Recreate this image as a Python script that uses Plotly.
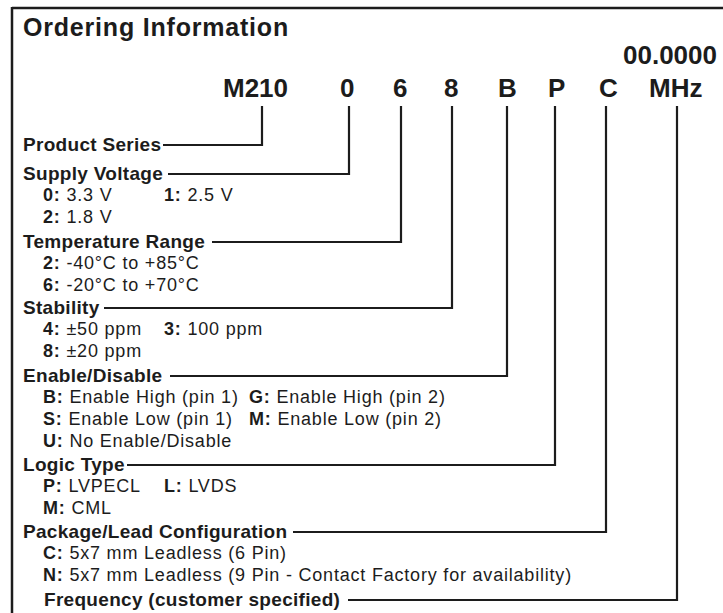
import plotly.graph_objects as go

W, H = 723, 613
INK = "#1c1c1c"
FONT = "Liberation Sans, Arial, sans-serif"

# ---- content ----
title = "Ordering Information"
freq_label = "00.0000"
codes = ["M210", "0", "6", "8", "B", "P", "C", "MHz"]
headings = ["Product Series", "Supply Voltage", "Temperature Range", "Stability",
            "Enable/Disable", "Logic Type", "Package/Lead Configuration",
            "Frequency (customer specified)"]
# options: (heading index, row within section, column, key, description)
opt_section = [1, 1, 1, 2, 2, 3, 3, 3, 4, 4, 4, 4, 4, 5, 5, 5, 6, 6]
opt_row = [1, 1, 2, 1, 2, 1, 1, 2, 1, 1, 2, 2, 3, 1, 1, 2, 1, 2]
opt_col = [0, 1, 0, 0, 0, 0, 1, 0, 0, 2, 0, 2, 0, 0, 1, 0, 0, 0]
opt_key = ["0", "1", "2", "2", "6", "4", "3", "8", "B", "G", "S", "M", "U",
           "P", "L", "M", "C", "N"]
opt_text = ["3.3 V", "2.5 V", "1.8 V", "-40°C to +85°C", "-20°C to +70°C",
            "±50 ppm", "100 ppm", "±20 ppm", "Enable High (pin 1)",
            "Enable High (pin 2)", "Enable Low (pin 1)", "Enable Low (pin 2)",
            "No Enable/Disable", "LVPECL", "LVDS", "CML",
            "5x7 mm Leadless (6 Pin)",
            "5x7 mm Leadless (9 Pin - Contact Factory for availability)"]

# ---- layout (pixel positions) ----
code_x = [255, 347, 400, 451, 507, 556, 608, 675]
line_x = [262, 349, 401, 452, 507, 555, 606, 677]
heading_y = [145, 174, 242, 308, 376, 465, 532, 600]
heading_x = [21, 21, 21, 21, 21, 21, 21, 42]
line_start = [163, 168, 212, 104, 170, 127, 293, 348]
col_x = [41, 162, 247]
row_step = 22
code_y = 88
vline_top = 106

fig = go.Figure()
shapes = []
ann = []

# border
shapes.append(dict(type="line", x0=12, x1=W, y0=8, y1=8, line=dict(color=INK, width=2.5)))
shapes.append(dict(type="line", x0=12, x1=12, y0=7, y1=H, line=dict(color=INK, width=2.5)))

ann.append(dict(x=21, y=27, text='<b><span style="letter-spacing:0.8px">' + title + '</span></b>',
                xanchor="left", yanchor="middle",
                font=dict(size=25, family=FONT, color=INK)))
ann.append(dict(x=719, y=55, text="<b>" + freq_label + "</b>", xanchor="right", yanchor="middle",
                font=dict(size=26, family=FONT, color=INK)))

for c, cx in zip(codes, code_x):
    ann.append(dict(x=cx, y=code_y, text="<b>" + c + "</b>", xanchor="center", yanchor="middle",
                    font=dict(size=26, family=FONT, color=INK)))

for i, h in enumerate(headings):
    ann.append(dict(x=heading_x[i], y=heading_y[i] - 1,
                    text='<b><span style="letter-spacing:0.3px">' + h + '</span></b>',
                    xanchor="left", yanchor="middle",
                    font=dict(size=19, family=FONT, color=INK)))
    lx, ly = line_x[i], heading_y[i]
    shapes.append(dict(type="path",
                       path=f"M {line_start[i]},{ly} L {lx},{ly} L {lx},{vline_top}",
                       line=dict(color=INK, width=2.2)))

for s, r, col, k, t in zip(opt_section, opt_row, opt_col, opt_key, opt_text):
    y = heading_y[s] - 1 + r * row_step
    ann.append(dict(x=col_x[col], y=y,
                    text='<span style="letter-spacing:0.8px"><b>' + k + ':</b> ' + t + '</span>',
                    xanchor="left", yanchor="middle",
                    font=dict(size=18, family=FONT, color=INK)))

for a in ann:
    a.update(xref="x", yref="y", showarrow=False)

fig.update_layout(
    width=W, height=H, margin=dict(l=0, r=0, t=0, b=0),
    paper_bgcolor="white", plot_bgcolor="white",
    xaxis=dict(range=[0, W], visible=False, fixedrange=True),
    yaxis=dict(range=[H, 0], visible=False, fixedrange=True),
    shapes=shapes, annotations=ann, showlegend=False,
)
fig.write_html("out.html", config={"displayModeBar": False},
               post_script="document.body.style.margin='0';document.body.style.overflow='hidden';")
